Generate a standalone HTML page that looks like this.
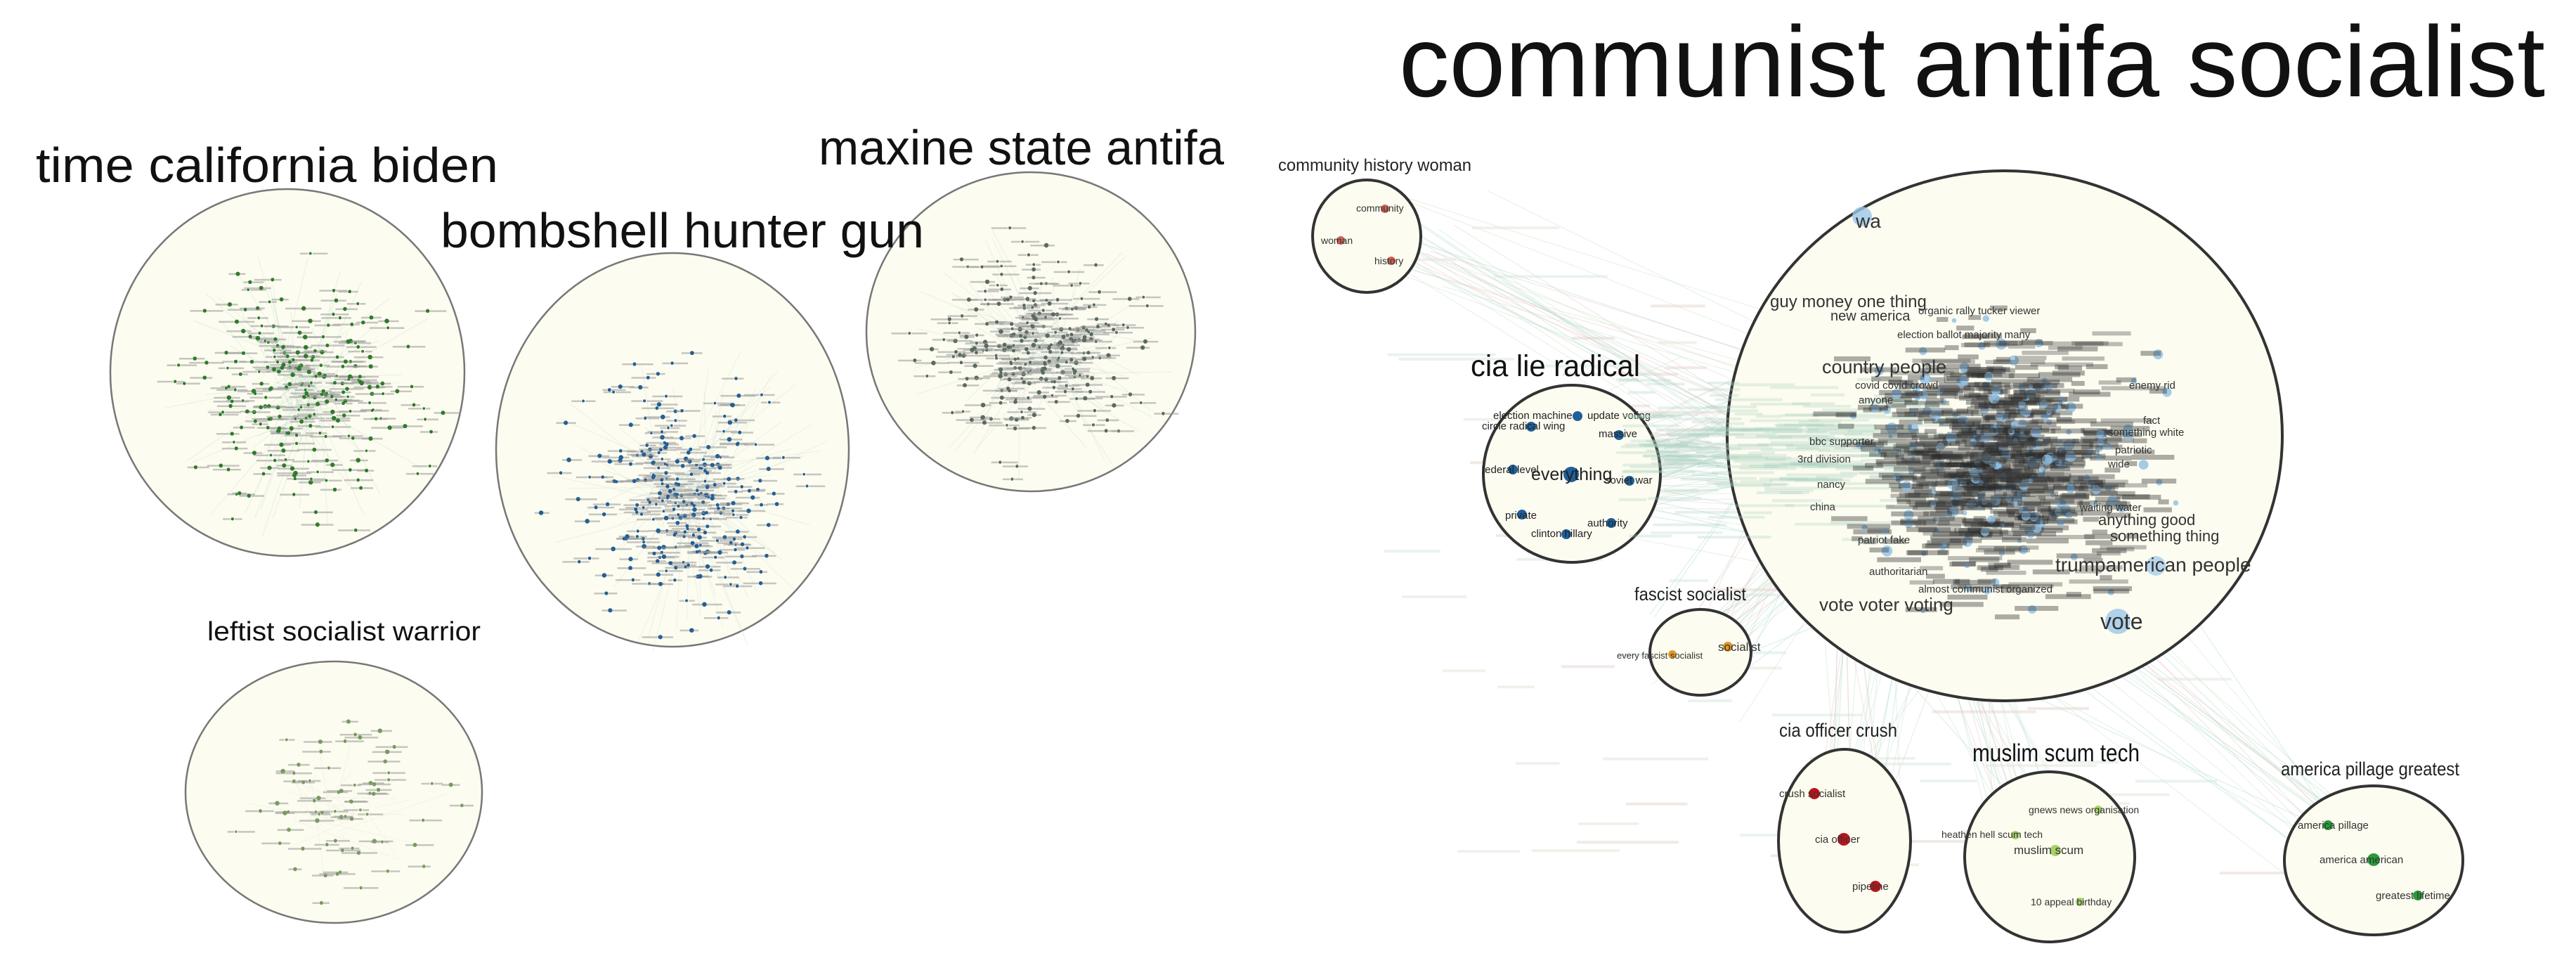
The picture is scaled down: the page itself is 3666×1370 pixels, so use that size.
<!DOCTYPE html>
<html><head><meta charset="utf-8"><style>
html,body{margin:0;padding:0;background:#fff;}
svg{display:block;}
text{font-family:"Liberation Sans",sans-serif;}
</style></head><body>
<svg id="s" width="3666" height="1370" viewBox="0 0 3666 1370" xmlns="http://www.w3.org/2000/svg">
<rect width="3666" height="1370" fill="#fff"/>
<g id="edges"></g>
<ellipse cx="409" cy="530" rx="252" ry="261" fill="#fcfcf0" stroke="#777" stroke-width="2.5"/>
<ellipse cx="957" cy="640" rx="251" ry="280" fill="#fcfcf0" stroke="#777" stroke-width="2.5"/>
<ellipse cx="1467" cy="472" rx="234" ry="227" fill="#fcfcf0" stroke="#777" stroke-width="2.5"/>
<ellipse cx="475" cy="1127" rx="211" ry="186" fill="#fcfcf0" stroke="#777" stroke-width="2.5"/>
<ellipse cx="2853" cy="620" rx="395" ry="377" fill="#fcfcf0" stroke="#333" stroke-width="4"/>
<ellipse cx="1945" cy="336" rx="77" ry="80" fill="#fcfcf0" stroke="#333" stroke-width="4"/>
<ellipse cx="2237" cy="674" rx="126" ry="126" fill="#fcfcf0" stroke="#333" stroke-width="4"/>
<ellipse cx="2420" cy="928" rx="72" ry="61" fill="#fcfcf0" stroke="#333" stroke-width="4"/>
<ellipse cx="2625" cy="1196" rx="94" ry="130" fill="#fcfcf0" stroke="#333" stroke-width="4"/>
<ellipse cx="2917" cy="1219" rx="121" ry="121" fill="#fcfcf0" stroke="#333" stroke-width="4"/>
<ellipse cx="3378" cy="1224" rx="127" ry="106" fill="#fcfcf0" stroke="#333" stroke-width="4"/>
<g id="gen"></g>

<text x="51" y="259" font-size="70" textLength="658" lengthAdjust="spacingAndGlyphs" fill="#111">time california biden</text>
<text x="627" y="352" font-size="70" textLength="688" lengthAdjust="spacingAndGlyphs" fill="#111">bombshell hunter gun</text>
<text x="1165" y="234" font-size="70" textLength="577" lengthAdjust="spacingAndGlyphs" fill="#111">maxine state antifa</text>
<text x="295" y="911" font-size="38" textLength="389" lengthAdjust="spacingAndGlyphs" fill="#111">leftist socialist warrior</text>
<text x="1991" y="137" font-size="143" textLength="1631" lengthAdjust="spacingAndGlyphs" fill="#111">communist antifa socialist</text>
<text x="1819" y="243" font-size="24" textLength="275" lengthAdjust="spacingAndGlyphs" fill="#222">community history woman</text>
<text x="2093" y="535" font-size="43" textLength="241" lengthAdjust="spacingAndGlyphs" fill="#111">cia lie radical</text>
<text x="2326" y="854" font-size="26" textLength="159" lengthAdjust="spacingAndGlyphs" fill="#222">fascist socialist</text>
<text x="2532" y="1048" font-size="27" textLength="168" lengthAdjust="spacingAndGlyphs" fill="#222">cia officer crush</text>
<text x="2807" y="1083" font-size="35" textLength="238" lengthAdjust="spacingAndGlyphs" fill="#111">muslim scum tech</text>
<text x="3246" y="1103" font-size="27" textLength="254" lengthAdjust="spacingAndGlyphs" fill="#222">america pillage greatest</text>

<circle cx="1971" cy="297" r="6" fill="#c0392b" opacity=".8"/>
<circle cx="1908" cy="342" r="6" fill="#c0392b" opacity=".8"/>
<circle cx="1980" cy="371" r="6" fill="#c0392b" opacity=".8"/>
<g font-size="14" fill="#333">
<text x="1930" y="301">community</text><text x="1880" y="347">woman</text><text x="1956" y="376">history</text>
</g>
<g fill="#1f5f9a">
<circle cx="2245" cy="592" r="7"/><circle cx="2179" cy="607" r="7"/><circle cx="2304" cy="619" r="7"/>
<circle cx="2153" cy="668" r="7"/><circle cx="2236" cy="675" r="11"/><circle cx="2319" cy="684" r="7"/>
<circle cx="2166" cy="732" r="7"/><circle cx="2293" cy="744" r="7"/><circle cx="2229" cy="760" r="7"/>
</g>
<g font-size="15" fill="#222">
<text x="2125" y="596">election machine</text><text x="2259" y="596">update voting</text>
<text x="2109" y="611">circle radical wing</text><text x="2275" y="622">massive</text>
<text x="2109" y="673">federal level</text><text x="2179" y="683" font-size="25">everything</text>
<text x="2284" y="688">soviet war</text><text x="2142" y="738">private</text>
<text x="2259" y="749">authority</text><text x="2179" y="764">clinton hillary</text>
</g>
<circle cx="2380" cy="931" r="6" fill="#e09a2a"/><circle cx="2459" cy="920" r="7" fill="#e09a2a"/>
<text x="2301" y="937" font-size="13" fill="#333">every fascist socialist</text>
<text x="2445" y="926" font-size="17" fill="#333">socialist</text>
<circle cx="2582" cy="1129" r="8" fill="#c0141c"/><circle cx="2624" cy="1194" r="9" fill="#c0141c"/><circle cx="2669" cy="1261" r="8" fill="#c0141c"/>
<g font-size="15" fill="#333"><text x="2532" y="1134">crush socialist</text><text x="2583" y="1199">cia officer</text><text x="2636" y="1266">pipeline</text></g>
<g fill="#a6d26a"><circle cx="2986" cy="1152" r="6"/><circle cx="2868" cy="1188" r="6"/><circle cx="2925" cy="1210" r="8"/><circle cx="2960" cy="1283" r="6"/></g>
<g font-size="14" fill="#333"><text x="2887" y="1157">gnews news organisation</text><text x="2763" y="1192">heathen hell scum tech</text><text x="2866" y="1215" font-size="17">muslim scum</text><text x="2890" y="1288">10 appeal birthday</text></g>
<g fill="#2a9a3a"><circle cx="3313" cy="1174" r="7"/><circle cx="3378" cy="1223" r="9"/><circle cx="3441" cy="1274" r="7"/></g>
<g font-size="15" fill="#333"><text x="3270" y="1179">america pillage</text><text x="3301" y="1228">america american</text><text x="3381" y="1279">greatest lifetime</text></g>

<g id="dense"></g>
<circle cx="2650" cy="308" r="14" fill="#9cc6e8" opacity=".8"/>
<circle cx="3014" cy="884" r="18" fill="#9cc6e8" opacity=".8"/>
<circle cx="3068" cy="805" r="14" fill="#9cc6e8" opacity=".7"/>
<g fill="#333">
<text x="2641" y="324" font-size="28">wa</text>
<text x="2519" y="437" font-size="24">guy money one thing</text>
<text x="2605" y="456" font-size="20">new america</text>
<text x="2730" y="447" font-size="15">organic rally tucker viewer</text>
<text x="2700" y="481" font-size="15">election ballot majority many</text>
<text x="2593" y="531" font-size="27">country people</text>
<text x="2640" y="553" font-size="15">covid covid crowd</text>
<text x="2645" y="574" font-size="15">anyone</text>
<text x="3030" y="553" font-size="15">enemy rid</text>
<text x="3050" y="603" font-size="15">fact</text>
<text x="3000" y="620" font-size="15">something white</text>
<text x="3010" y="645" font-size="15">patriotic</text>
<text x="2575" y="633" font-size="15">bbc supporter</text>
<text x="2558" y="658" font-size="15">3rd division</text>
<text x="3000" y="665" font-size="15">wide</text>
<text x="2586" y="694" font-size="15">nancy</text>
<text x="2576" y="726" font-size="15">china</text>
<text x="2960" y="727" font-size="15">waiting water</text>
<text x="2986" y="747" font-size="22">anything good</text>
<text x="3003" y="770" font-size="22">something thing</text>
<text x="2644" y="773" font-size="15">patriot fake</text>
<text x="2925" y="813" font-size="28">trumpamerican people</text>
<text x="2660" y="818" font-size="15">authoritarian</text>
<text x="2730" y="843" font-size="15">almost communist organized</text>
<text x="2589" y="869" font-size="26">vote voter voting</text>
<text x="2989" y="895" font-size="32">vote</text>
</g>
</svg>
<script>
(function(){
var NS="http://www.w3.org/2000/svg";
var seed=12345;function r(){seed=(seed*1103515245+12345)%2147483648;return seed/2147483648;}
function g(){var u=r()||1e-6,v=r();return Math.sqrt(-2*Math.log(u))*Math.cos(2*Math.PI*v);}
function el(p,t,a){var e=document.createElementNS(NS,t);for(var k in a)e.setAttribute(k,a[k]);p.appendChild(e);return e;}
var gen=document.getElementById("gen"),edges=document.getElementById("edges"),dense=document.getElementById("dense");
function cluster(cx,cy,rx,ry,n,col,sx,sy,lc){
  for(var i=0;i<n*0.4;i++){var a=r()*6.283,d=r();var x=cx+Math.cos(a)*rx*0.85*d,y=cy+Math.sin(a)*ry*0.85*d;
    el(gen,"line",{x1:cx+g()*20,y1:cy+g()*20,x2:x,y2:y,stroke:lc,"stroke-width":1,opacity:0.3});}
  for(var i=0;i<n;i++){var x,y;
    do{x=cx+g()*sx;y=cy+g()*sy;}while(((x-cx)*(x-cx))/(rx*rx*0.72)+((y-cy)*(y-cy))/(ry*ry*0.72)>1);
    var w1=6+r()*18,w2=6+r()*18;
    el(gen,"rect",{x:x-w1-3,y:y-1,width:w1,height:2.5,fill:"#999",opacity:0.55});
    el(gen,"rect",{x:x+3,y:y-1,width:w2,height:2.5,fill:"#999",opacity:0.55});
    el(gen,"circle",{cx:x,cy:y,r:1.8+r()*1.5,fill:col});}
}
cluster(430,560,252,261,260,"#2f7a2a",75,70,"#b8d8c0");
cluster(980,700,251,280,280,"#245f94",70,75,"#c8d8d0");
cluster(1480,500,234,227,280,"#5a6a60",70,65,"#c0d8c8");
cluster(480,1150,211,186,70,"#7a9a60",65,55,"#dde8d0");
var hubs=[[1990,340],[2237,674],[2237,674],[2420,928],[2625,1196],[2917,1219],[3378,1224]];
for(var i=0;i<200;i++){var h=hubs[Math.floor(r()*hubs.length)];
  var tx=2700+g()*90,ty=660+g()*90;
  var cols=["#a8dccc","#bfe3d4","#e8c4c0","#cce0c4"];
  el(edges,"line",{x1:h[0]+g()*40,y1:h[1]+g()*30,x2:tx,y2:ty,stroke:cols[Math.floor(r()*4)],"stroke-width":1.2,opacity:0.4});}
for(var i=0;i<110;i++){
  var x=1960+r()*1200,y=300+r()*950;
  var dx=(x-2853)/395,dy=(y-620)/377; if(dx*dx+dy*dy<1.0)continue;
  var cols=["#e0d0c8","#d0e4dc","#e0e0d4"];
  el(edges,"rect",{x:x,y:y,width:50+r()*120,height:4,fill:cols[Math.floor(r()*3)],opacity:0.45});}
for(var i=0;i<220;i++){var x=2300+r()*400,y=640+g()*45;
  el(dense,"rect",{x:x,y:y,width:30+r()*80,height:4,fill:"#a8cfc0",opacity:0.3});}
for(var i=0;i<650;i++){var x=2840+g()*85,y=660+g()*75;
  if(r()<0.35)el(dense,"circle",{cx:x,cy:y,r:3+r()*5,fill:"#8fbfe4",opacity:0.8});
  el(dense,"rect",{x:x-25,y:y-5,width:15+r()*50,height:7,fill:"#2a2a2a",opacity:0.38});}
for(var i=0;i<80;i++){var x=2680+r()*320,y=470+r()*370;
  el(dense,"rect",{x:x,y:y,width:30+r()*60,height:6,fill:"#444",opacity:0.35});}
})();
</script>
</body></html>
